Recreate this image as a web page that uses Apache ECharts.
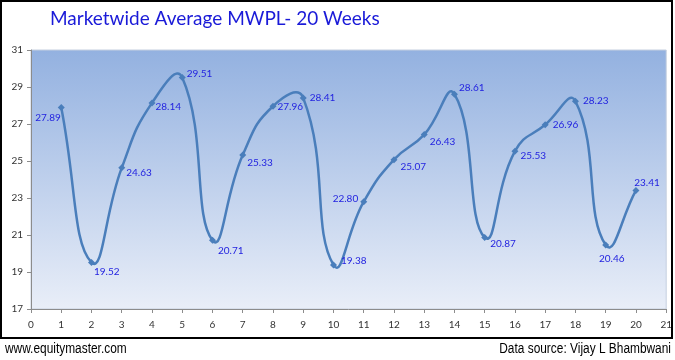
<!DOCTYPE html>
<html>
<head>
<meta charset="utf-8">
<script src="https://cdn.jsdelivr.net/npm/echarts@6/dist/echarts.min.js"></script>
<style>
html,body{margin:0;padding:0;background:#fff;}
#c{width:675px;height:360px;}
</style>
</head>
<body>
<div id="c"></div>
<script>
// ---- data ----
var weeks = [1,2,3,4,5,6,7,8,9,10,11,12,13,14,15,16,17,18,19,20];
var mwpl = [27.89,19.52,24.63,28.14,29.51,20.71,25.33,27.96,28.41,19.38,22.80,25.07,26.43,28.61,20.87,25.53,26.96,28.23,20.46,23.41];
var titleText = 'Marketwide Average MWPL- 20 Weeks';
var footLeft = 'www.equitymaster.com';
var footRight = 'Data source: Vijay L Bhambwani';

// ---- label placement (style only) ----
var labelPlace = [
  ['left',[8,10]],['right',[-6,9]],['right',[-4,5]],['right',[-5,4]],['right',[-4,-4]],
  ['right',[-3,10]],['right',[-4,8]],['right',[-4,1]],['right',[-2,0]],['right',[-1,-4]],
  ['left',[3,-3]],['right',[-2,7]],['right',[-3,7]],['right',[-4,-6]],['right',[-3,6]],
  ['right',[-3,5]],['right',[-1,0]],['right',[-1,0]],['bottom',[6,0]],['top',[11,6]]
];

var seriesData = weeks.map(function(w,i){
  return {
    value:[w, mwpl[i]],
    label:{position:labelPlace[i][0], offset:labelPlace[i][1]}
  };
});
var pairs = weeks.map(function(w,i){ return [w, mwpl[i]]; });

// Smooth curve (Excel-like, no clamping of control points)
var SMOOTH = 0.5;
function renderCurve(params, api){
  if (params.dataIndex !== 0) return null;
  var pts = pairs.map(function(p){ return api.coord(p); });
  var n = pts.length;
  var cps = [];
  for (var i=0;i<n;i++){
    var p = pts[i], prev = pts[Math.max(i-1,0)], next = pts[Math.min(i+1,n-1)];
    var vx = next[0]-prev[0], vy = next[1]-prev[1];
    var l0 = Math.hypot(p[0]-prev[0], p[1]-prev[1]);
    var l1 = Math.hypot(next[0]-p[0], next[1]-p[1]);
    var tot = l0 + l1 || 1;
    cps.push({
      inX: p[0] - vx*SMOOTH*l0/tot, inY: p[1] - vy*SMOOTH*l0/tot,
      outX: p[0] + vx*SMOOTH*l1/tot, outY: p[1] + vy*SMOOTH*l1/tot
    });
  }
  var d = 'M' + pts[0][0] + ' ' + pts[0][1];
  for (var j=0;j<n-1;j++){
    d += ' C' + cps[j].outX + ' ' + cps[j].outY + ' ' + cps[j+1].inX + ' ' + cps[j+1].inY + ' ' + pts[j+1][0] + ' ' + pts[j+1][1];
  }
  return {
    type:'path',
    shape:{pathData:d},
    style:{fill:'none', stroke:'#4a7ebb', lineWidth:2.5}
  };
}

var chart = echarts.init(document.getElementById('c'), null, {renderer:'canvas'});
chart.setOption({
  animation:false,
  backgroundColor:'#ffffff',
  title:{
    text:titleText, left:45, top:4,
    textStyle:{color:'#1a1ad8', fontFamily:'Lato', fontWeight:'normal', fontSize:19}
  },
  grid:{
    left:31, right:8, top:50, bottom:51, show:true,
    borderColor:'#c5cfdf', borderWidth:1,
    backgroundColor:{type:'linear',x:0,y:0,x2:0,y2:1,colorStops:[
      {offset:0,color:'#93b1e0'},{offset:1,color:'#e9eef8'}]}
  },
  xAxis:{
    type:'value', min:0, max:21, interval:1,
    axisLine:{show:true, lineStyle:{color:'#8c8c8c', width:1}},
    axisTick:{show:true, length:4, lineStyle:{color:'#8c8c8c'}},
    splitLine:{show:false},
    axisLabel:{color:'#333', fontSize:10, fontFamily:'Lato', margin:11}
  },
  yAxis:{
    type:'value', min:17, max:31, interval:2,
    axisLine:{show:true, lineStyle:{color:'#8c8c8c', width:1}},
    axisTick:{show:true, length:4, lineStyle:{color:'#8c8c8c'}},
    splitLine:{show:false},
    axisLabel:{color:'#333', fontSize:10, fontFamily:'Lato', margin:8}
  },
  series:[{
    type:'custom',
    renderItem:renderCurve,
    data:pairs,
    z:2,
    silent:true
  },{
    type:'line',
    data:seriesData,
    smooth:false,
    symbol:'diamond', symbolSize:7,
    itemStyle:{color:'#4a7ebb'},
    lineStyle:{opacity:0, width:0},
    z:3,
    label:{show:true, color:'#2323e0', fontSize:10, fontFamily:'Lato',
      formatter:function(p){return p.value[1].toFixed(2);}}
  }],
  graphic:[
    {type:'rect', shape:{x:1,y:1,width:671,height:337}, style:{fill:'none', stroke:'#000', lineWidth:2}, z:100},
    {type:'text', x:5, y:349, scaleX:0.85, style:{text:footLeft, fill:'#000', fontSize:14, fontFamily:'Liberation Sans', align:'left', verticalAlign:'middle'}},
    {type:'text', x:671, y:349, scaleX:0.85, style:{text:footRight, fill:'#000', fontSize:14, fontFamily:'Liberation Sans', align:'right', verticalAlign:'middle'}}
  ]
});
</script>
</body>
</html>
